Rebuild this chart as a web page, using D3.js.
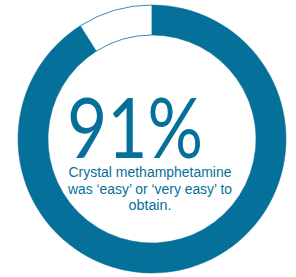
<!DOCTYPE html>
<html><head><meta charset="utf-8">
<script src="https://cdn.jsdelivr.net/npm/d3@7"></script>
<style>html,body{margin:0;padding:0;background:#fff;}</style>
</head><body>
<svg id="c" width="296" height="277"></svg>
<script>
const categories = ["Easy or very easy", "Other"];
const values = [91, 9];
const bigLabel = "91%";
const captionLines = ["Crystal methamphetamine", "was \u2018easy\u2019 or \u2018very easy\u2019 to", "obtain."];

const blue = "#05709a";
const svg = d3.select("#c");
const cx = 152, cy = 139, rOuter = 134, rInner = 104;
const g = svg.append("g").attr("transform", `translate(${cx},${cy})`);
const pie = d3.pie().sort(null).value(d => d);
const arc = d3.arc().innerRadius(rInner).outerRadius(rOuter);
g.selectAll("path").data(pie(values)).join("path")
  .attr("d", arc)
  .attr("fill", (d, i) => i === 0 ? blue : "#fff")
  .attr("stroke", blue)
  .attr("stroke-width", (d, i) => i === 0 ? 0.5 : 0.8);

svg.append("text").attr("x", 135).attr("y", 158)
  .attr("text-anchor", "middle")
  .attr("font-family", "Lato, 'Open Sans', sans-serif").attr("font-weight", 400)
  .attr("font-size", 84).attr("fill", blue)
  .attr("textLength", 136).attr("lengthAdjust", "spacingAndGlyphs")
  .text(bigLabel);

const widths = [163, 164, 43];
captionLines.forEach((t, i) => {
  svg.append("text").attr("text-anchor", "middle")
    .attr("font-family", "'Liberation Sans', Arial, sans-serif")
    .attr("font-size", 14).attr("fill", blue)
    .attr("x", 150).attr("y", 177 + i * 16.5)
    .attr("textLength", widths[i]).attr("lengthAdjust", "spacingAndGlyphs")
    .text(t);
});
</script>
</body></html>
